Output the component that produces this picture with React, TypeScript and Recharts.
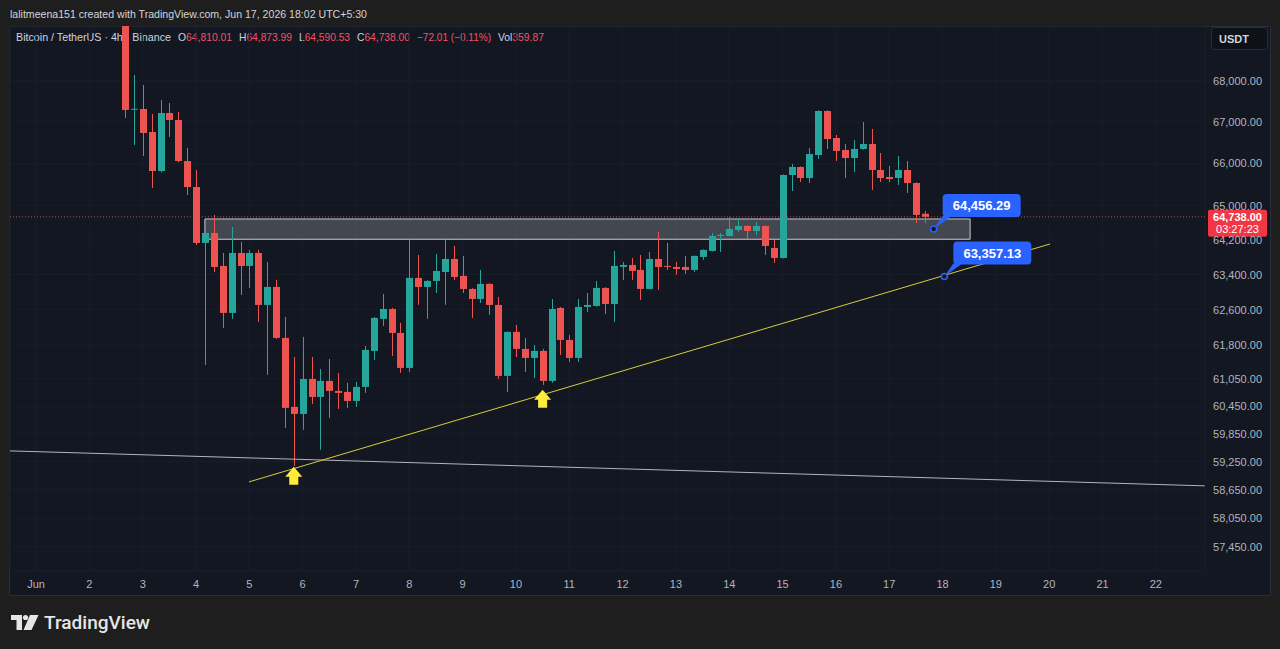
import React from "react";
import {
  ComposedChart,
  Bar,
  XAxis,
  YAxis,
  CartesianGrid,
  ReferenceLine,
  ReferenceArea,
  ReferenceDot,
} from "recharts";

// bar index: 0 = Jun 1 first 4h candle, 6 candles per day
const firstBar = 10;

const opens = [
  69600, 67310, 67315, 66757, 65821, 67217, 67047, 66059, 65441, 64130,
  64362, 63598, 62526, 63898, 63598, 63898, 62707, 63117, 61963, 60435,
  60282, 61050, 60654, 61006, 60786, 60764, 60566, 60874, 61672, 62391,
  62616, 62075, 61294, 63323, 63117, 63254, 63460, 63759, 63369, 63071,
  62843, 63186, 62707, 61117, 62098, 61717, 61516, 61672, 61006, 62639,
  61918, 61516, 62662, 62684, 63094, 62729, 63575, 63621, 63506, 63071,
  63759, 63598, 63575, 63575, 63506, 63806, 63944, 64292, 64292, 64432,
  64525, 64409, 64525, 64014, 63782, 65726, 65916, 65655, 66203, 67266,
  66612, 66324, 66131, 66348, 66468, 65845, 65678, 65655, 65845, 65536,
  64810.01,
];
const highs = [
  69800, 68148, 67900, 67193, 67534, 67461, 67242, 66372, 65845, 64665,
  64782, 63898, 64502, 64153, 63968, 63968, 63690, 63277, 62436, 61538,
  61986, 61538, 61272, 61493, 61183, 60962, 60984, 61784, 62430, 62957,
  62640, 62301, 64199, 63852, 63270, 63875, 64199, 64060, 63829, 63090,
  63506, 63200, 62889, 62110, 62256, 61963, 61806, 61717, 62843, 62660,
  62030, 62843, 62980, 63254, 63110, 63944, 63690, 63782, 63852, 63921,
  64385, 64130, 63690, 63829, 63840, 63980, 64362, 64362, 64736, 64712,
  64540, 64618, 64540, 64199, 65740, 65988, 65930, 66372, 67280, 67280,
  66685, 66468, 66564, 66999, 66830, 66251, 65940, 66179, 66059, 65550,
  64873.99,
];
const lows = [
  67096, 66444, 66179, 65418, 65790, 66637, 66030, 65252, 64083, 61360,
  63460, 62188, 62391, 62934, 63094, 62323, 61139, 61940, 59978, 59160,
  59935, 60500, 59503, 60195, 60391, 60413, 60435, 60742, 61471, 62233,
  61560, 61183, 61205, 62707, 62391, 62980, 62707, 63277, 62980, 62413,
  62752, 62481, 61050, 60764, 61538, 61205, 61072, 60918, 60962, 61583,
  61427, 61427, 62548, 62670, 62503, 62323, 63277, 63277, 62820, 63060,
  63049, 63506, 63392, 63415, 63460, 63736, 63930, 63921, 64280, 64385,
  64222, 64316, 63852, 63667, 63770, 65347, 65560, 65536, 66107, 66348,
  66059, 65655, 65797, 66335, 65370, 65560, 65560, 65489, 65300, 64595,
  64590.53,
];
const closes = [
  67291, 67320, 66733, 65821, 67217, 67047, 66059, 65441, 64130, 64362,
  63575, 62526, 63898, 63598, 63898, 62707, 63117, 61963, 60413, 60282,
  61050, 60654, 61006, 60786, 60742, 60566, 60874, 61694, 62413, 62616,
  62075, 61294, 63323, 63117, 63254, 63483, 63759, 63346, 63071, 62843,
  63186, 62707, 61117, 62098, 61717, 61516, 61672, 61006, 62616, 61918,
  61516, 62662, 62707, 63094, 62729, 63598, 63621, 63483, 63071, 63759,
  63575, 63575, 63529, 63506, 63829, 63968, 64292, 64316, 64455, 64525,
  64409, 64525, 64060, 63782, 65726, 65916, 65655, 66227, 67266, 66588,
  66300, 66131, 66348, 66468, 65845, 65655, 65631, 65845, 65536, 64782,
  64738.0,
];

const dayTicks = [0, 6, 12, 18, 24, 30, 36, 42, 48, 54, 60, 66, 72, 78, 84, 90, 96, 102, 108, 114, 120, 126];
const dayLabels = ["Jun", "2", "3", "4", "5", "6", "7", "8", "9", "10", "11", "12", "13", "14", "15", "16", "17", "18", "19", "20", "21", "22"];
const priceTicks = [57450, 58050, 58650, 59250, 59850, 60450, 61050, 61800, 62600, 63400, 64200, 65000, 66000, 67000, 68000];

const lastPrice = 64738.0;
const countdown = "03:27:23";
const zoneBars = [19.0, 105.1];
const zonePrices = [64215, 64688];
const risingLine = [
  { x: 23.96, y: 58817 },
  { x: 114.1, y: 64106 },
];
const flatLine = [
  { x: -2.93, y: 59481 },
  { x: 131.5, y: 58733 },
];
const arrowMarks = [
  { bar: 29, price: 59140 },
  { bar: 57, price: 60810 },
];
const callouts = [
  { bar: 101.0, price: 64456.29 },
  { bar: 102.2, price: 63357.13 },
];

// legend: label, value, x, width
const legendItems = [
  { label: "O", value: "64,810.01", x: 178, w: 54 },
  { label: "H", value: "64,873.99", x: 239, w: 53 },
  { label: "L", value: "64,590.53", x: 299, w: 51 },
  { label: "C", value: "64,738.00", x: 357, w: 53 },
  { label: "", value: "−72.01 (−0.11%)", x: 417, w: 74 },
  { label: "Vol", value: "359.87", x: 498, w: 46 },
];

const candles = opens.map((open, i) => ({
  bar: firstBar + i,
  open,
  high: highs[i],
  low: lows[i],
  close: closes[i],
}));

const UP = "#26a69a";
const DOWN = "#ef5350";
const AXIS_TEXT = "#b2b5be";
const FONT = "'Liberation Sans', Arial, sans-serif";

const fmt = (v: number) =>
  v.toLocaleString("en-US", { minimumFractionDigits: 2, maximumFractionDigits: 2 });

function Candle(props: any) {
  const { x, y, width, height, payload } = props;
  if (!payload) return null;
  const { open, close, high, low } = payload;
  const yTop = Math.min(y, y + height);
  const yBot = Math.max(y, y + height);
  const lh = Math.log(high);
  const ll = Math.log(low);
  const toY = (v: number) => yTop + ((yBot - yTop) * (lh - Math.log(v))) / (lh - ll);
  const cx = Math.round(x + width / 2);
  const color = close >= open ? UP : DOWN;
  const bTop = toY(Math.max(open, close));
  const bBot = toY(Math.min(open, close));
  return (
    <g>
      <line x1={cx + 0.5} x2={cx + 0.5} y1={yTop} y2={yBot} stroke={color} strokeWidth={1} />
      <rect x={cx - 3} y={bTop} width={7} height={Math.max(1, bBot - bTop)} fill={color} />
    </g>
  );
}

function PriceTag(props: any) {
  const vb = props.viewBox;
  if (!vb) return null;
  const x = vb.x + vb.width + 3;
  const y = vb.y;
  return (
    <g>
      <rect x={x} y={y - 7} width={59} height={27} rx={2} fill="#f23645" />
      <text x={x + 29.5} y={y + 0.5} textAnchor="middle" dominantBaseline="central" fill="#fff" fontSize={11} fontWeight={700} fontFamily={FONT}>
        {fmt(lastPrice)}
      </text>
      <text x={x + 29.5} y={y + 12.5} textAnchor="middle" dominantBaseline="central" fill="#fff" fontSize={11} fontFamily={FONT}>
        {countdown}
      </text>
    </g>
  );
}

const TimeTick = (props: any) => {
  const { x, payload } = props;
  const i = dayTicks.indexOf(payload.value);
  return (
    <text x={x} y={584} textAnchor="middle" dominantBaseline="central" fill={AXIS_TEXT} fontSize={11} fontFamily={FONT}>
      {dayLabels[i]}
    </text>
  );
};

const PriceTick = (props: any) => {
  const { y, payload } = props;
  return (
    <text x={1262} y={y} textAnchor="end" dominantBaseline="central" fill={AXIS_TEXT} fontSize={11} fontFamily={FONT}>
      {fmt(payload.value)}
    </text>
  );
};

const Arrow = (props: any) => {
  const { cx, cy } = props;
  const d = `M${cx} ${cy} L${cx + 8.5} ${cy + 10} L${cx + 4.5} ${cy + 10} L${cx + 4.5} ${cy + 18} L${cx - 4.5} ${cy + 18} L${cx - 4.5} ${cy + 10} L${cx - 8.5} ${cy + 10} Z`;
  return <path d={d} fill="#ffeb3b" />;
};

const makeCallout = (text: string) => (props: any) => {
  const { cx, cy } = props;
  return (
    <g>
      <path d={`M${cx} ${cy} L${cx + 9} ${cy - 13} L${cx + 18} ${cy - 13} Z`} fill="#2962ff" />
      <rect x={cx + 9} y={cy - 35} width={78} height={23} rx={4} fill="#2962ff" />
      <text x={cx + 48} y={cy - 23} textAnchor="middle" dominantBaseline="central" fill="#fff" fontSize={13} fontWeight={700} fontFamily={FONT}>
        {text}
      </text>
      <circle cx={cx} cy={cy} r={3} fill="#131722" stroke="#2962ff" strokeWidth={1.5} />
    </g>
  );
};

export default function App() {
  return (
    <div style={{ position: "absolute", left: 0, top: 0, width: 1280, height: 649, background: "#1e1e1e", overflow: "hidden", fontFamily: FONT }}>
      <div style={{ position: "absolute", left: 9, top: 26, width: 1260, height: 568, background: "#131722", border: "1px solid #2a2e39" }} />

      <svg width={1280} height={649} style={{ position: "absolute", left: 0, top: 0 }}>
        <text x={10} y={17.5} fill="#d1d4dc" fontSize={11.5} textLength={357} lengthAdjust="spacingAndGlyphs">
          lalitmeena151 created with TradingView.com, Jun 17, 2026 18:02 UTC+5:30
        </text>
        <g fontSize={11} fontFamily={FONT}>
          <text x={16} y={41} fill="#d1d4dc" textLength={155} lengthAdjust="spacingAndGlyphs">Bitcoin / TetherUS · 4h · Binance</text>
          {legendItems.map((it) => (
            <text key={it.x} x={it.x} y={41} textLength={it.w} lengthAdjust="spacingAndGlyphs">
              {it.label && <tspan fill="#d1d4dc">{it.label}</tspan>}
              <tspan fill="#f7525f">{it.value}</tspan>
            </text>
          ))}
        </g>
      </svg>

      <div style={{ position: "absolute", left: 0, top: 0 }}>
        <ComposedChart width={1280} height={649} data={candles} margin={{ top: 26, right: 10, bottom: 53, left: 10 }}>
          <CartesianGrid stroke="#1a1e2a" />
          <XAxis
            dataKey="bar"
            type="number"
            domain={[-2.93, 131.53]}
            allowDataOverflow
            ticks={dayTicks}
            interval={0}
            height={25}
            axisLine={false}
            tickLine={false}
            tick={<TimeTick />}
          />
          <YAxis
            orientation="right"
            scale="log"
            domain={[56951, 69367]}
            allowDataOverflow
            ticks={priceTicks}
            interval={0}
            width={65}
            axisLine={false}
            tickLine={false}
            tick={<PriceTick />}
          />
          <ReferenceArea
            x1={zoneBars[0]}
            x2={zoneBars[1]}
            y1={zonePrices[0]}
            y2={zonePrices[1]}
            fill="#b2b5be"
            fillOpacity={0.3}
            stroke="#c8cad0"
            strokeWidth={1}
          />
          <ReferenceLine segment={flatLine} stroke="#b2b5be" strokeWidth={1} ifOverflow="hidden" />
          <ReferenceLine segment={risingLine} stroke="#d9cc3a" strokeWidth={1} ifOverflow="hidden" />
          <Bar
            dataKey={(d: any) => [d.low, d.high]}
            barSize={7}
            isAnimationActive={false}
            shape={(p: any) => <Candle {...p} />}
          />
          <ReferenceLine y={lastPrice} stroke="#ef5350" strokeDasharray="1 2" strokeOpacity={0.8} label={<PriceTag />} />
          {arrowMarks.map((a, i) => (
            <ReferenceDot key={"a" + i} x={a.bar} y={a.price} r={1} shape={Arrow} />
          ))}
          {callouts.map((c, i) => (
            <ReferenceDot key={"c" + i} x={c.bar} y={c.price} r={3} shape={makeCallout(fmt(c.price))} />
          ))}
        </ComposedChart>
      </div>

      <svg width={1280} height={649} style={{ position: "absolute", left: 0, top: 0, pointerEvents: "none" }}>
        <rect x={1211.5} y={27.5} width={56} height={22} rx={3} fill="#0f1118" stroke="#2a2e39" />
        <text x={1219} y={38.5} dominantBaseline="central" fill="#d1d4dc" fontSize={11} fontWeight={700} fontFamily={FONT}>USDT</text>
        <g fill="#e6e6e6">
          <path d="M11 615 H22 V630 H16.5 V620 H11 Z" />
          <circle cx={25.5} cy={617.5} r={2.6} />
          <path d="M30 615 H38.5 L31.5 630 H23.5 Z" />
        </g>
        <text x={44} y={629} fill="#e6e6e6" fontSize={19} fontWeight={500} fontFamily="Roboto, 'Liberation Sans', sans-serif" textLength={106} lengthAdjust="spacingAndGlyphs">
          TradingView
        </text>
      </svg>
    </div>
  );
}
